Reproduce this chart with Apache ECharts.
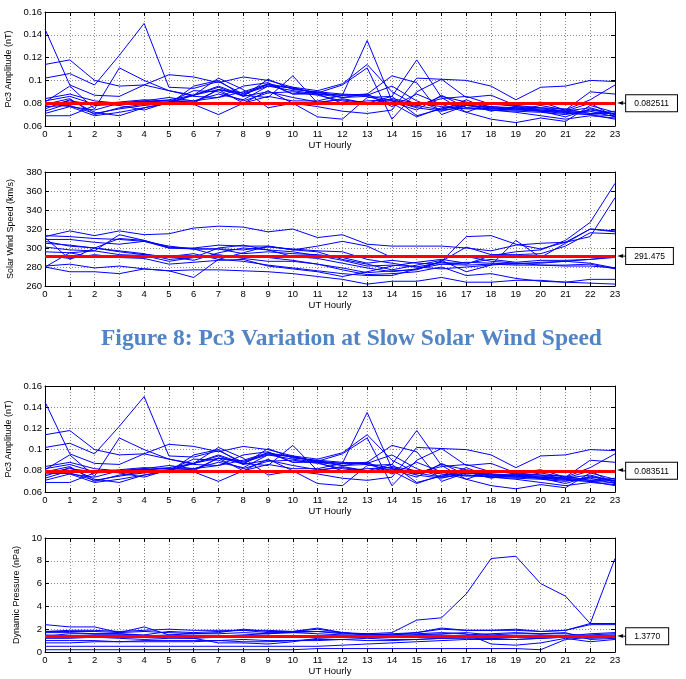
<!DOCTYPE html>
<html>
<head>
<meta charset="utf-8">
<script src="https://cdn.jsdelivr.net/npm/echarts@6/dist/echarts.min.js"></script>
<style>
  html, body { margin: 0; padding: 0; background: #fff; }
  #chart { width: 686px; height: 679px; }
</style>
</head>
<body>
<div id="chart"></div>
<script>
// Hour-of-day categories (UT)
const hours = ['0','1','2','3','4','5','6','7','8','9','10','11','12','13','14','15','16','17','18','19','20','21','22','23'];

// Pc3 amplitude (nT), one row per day
const pc3Days = [
  [0.145, 0.096, 0.087, 0.086, 0.096, 0.091, 0.087, 0.092, 0.089, 0.096, 0.093, 0.089, 0.087, 0.087, 0.082, 0.076, 0.073, 0.078, 0.076, 0.075, 0.073, 0.071, 0.070, 0.069],
  [0.114, 0.118, 0.100, 0.095, 0.096, 0.105, 0.103, 0.098, 0.103, 0.100, 0.094, 0.091, 0.097, 0.114, 0.090, 0.078, 0.074, 0.076, 0.074, 0.073, 0.072, 0.070, 0.074, 0.071],
  [0.102, 0.106, 0.096, 0.122, 0.150, 0.094, 0.093, 0.099, 0.088, 0.095, 0.091, 0.088, 0.087, 0.135, 0.082, 0.077, 0.086, 0.081, 0.077, 0.075, 0.074, 0.072, 0.070, 0.066],
  [0.081, 0.095, 0.075, 0.111, 0.100, 0.091, 0.086, 0.085, 0.090, 0.097, 0.088, 0.090, 0.085, 0.088, 0.104, 0.098, 0.070, 0.078, 0.076, 0.074, 0.078, 0.074, 0.083, 0.096],
  [0.069, 0.069, 0.078, 0.079, 0.081, 0.082, 0.081, 0.092, 0.087, 0.085, 0.104, 0.080, 0.084, 0.080, 0.086, 0.069, 0.075, 0.078, 0.077, 0.076, 0.075, 0.073, 0.071, 0.073],
  [0.071, 0.077, 0.069, 0.072, 0.076, 0.080, 0.079, 0.070, 0.080, 0.091, 0.080, 0.077, 0.073, 0.071, 0.074, 0.102, 0.101, 0.100, 0.095, 0.083, 0.094, 0.095, 0.100, 0.099],
  [0.075, 0.083, 0.072, 0.069, 0.076, 0.080, 0.087, 0.095, 0.087, 0.097, 0.093, 0.089, 0.096, 0.111, 0.066, 0.090, 0.101, 0.085, 0.087, 0.078, 0.081, 0.074, 0.090, 0.088],
  [0.078, 0.082, 0.079, 0.080, 0.082, 0.079, 0.095, 0.100, 0.086, 0.101, 0.092, 0.090, 0.088, 0.087, 0.095, 0.082, 0.074, 0.083, 0.074, 0.072, 0.069, 0.066, 0.069, 0.067],
  [0.080, 0.077, 0.074, 0.080, 0.081, 0.083, 0.087, 0.102, 0.092, 0.076, 0.080, 0.068, 0.066, 0.085, 0.086, 0.118, 0.085, 0.072, 0.066, 0.063, 0.067, 0.064, 0.078, 0.072],
  [0.073, 0.080, 0.080, 0.078, 0.074, 0.081, 0.091, 0.090, 0.082, 0.089, 0.090, 0.087, 0.082, 0.079, 0.084, 0.080, 0.077, 0.075, 0.075, 0.074, 0.073, 0.068, 0.075, 0.070],
  [0.084, 0.088, 0.082, 0.080, 0.082, 0.085, 0.082, 0.088, 0.083, 0.095, 0.094, 0.088, 0.080, 0.082, 0.083, 0.078, 0.084, 0.086, 0.079, 0.078, 0.076, 0.075, 0.071, 0.071],
  [0.077, 0.078, 0.071, 0.075, 0.078, 0.080, 0.080, 0.092, 0.080, 0.086, 0.082, 0.082, 0.087, 0.088, 0.077, 0.088, 0.079, 0.072, 0.080, 0.077, 0.076, 0.073, 0.080, 0.068],
  [0.079, 0.084, 0.070, 0.076, 0.079, 0.081, 0.087, 0.094, 0.086, 0.090, 0.085, 0.081, 0.083, 0.080, 0.081, 0.074, 0.087, 0.076, 0.075, 0.076, 0.073, 0.072, 0.073, 0.068],
  [0.082, 0.086, 0.079, 0.081, 0.083, 0.082, 0.082, 0.085, 0.095, 0.098, 0.088, 0.088, 0.085, 0.086, 0.080, 0.068, 0.076, 0.079, 0.073, 0.077, 0.074, 0.073, 0.076, 0.070]
];
const pc3MeanSlowWind = 0.082511;
const pc3MeanPressure = 0.083511;

// Solar wind speed (km/s)
const windDays = [
  [312, 318, 313, 318, 314, 315, 321, 323, 322, 317, 320, 311, 314, 304, 302, 302, 302, 300, 297, 303, 305, 306, 320, 317],
  [311, 288, 300, 310, 308, 301, 299, 299, 298, 301, 299, 297, 296, 288, 284, 280, 285, 283, 292, 296, 298, 308, 327, 368],
  [280, 295, 297, 314, 308, 300, 299, 292, 290, 290, 287, 283, 279, 274, 276, 277, 286, 312, 313, 304, 299, 306, 312, 353],
  [281, 283, 279, 281, 278, 276, 269, 288, 295, 302, 298, 296, 288, 283, 277, 282, 287, 275, 282, 308, 290, 305, 320, 318],
  [280, 275, 275, 273, 278, 276, 277, 277, 276, 275, 273, 270, 267, 262, 265, 265, 269, 264, 264, 266, 266, 264, 267, 267],
  [313, 312, 310, 309, 307, 300, 300, 303, 302, 302, 298, 302, 307, 302, 290, 292, 290, 291, 286, 284, 282, 282, 283, 278],
  [309, 309, 306, 304, 307, 302, 299, 299, 294, 296, 294, 293, 290, 284, 287, 284, 283, 282, 283, 282, 282, 281, 281, 279],
  [305, 303, 300, 296, 293, 291, 287, 295, 300, 298, 291, 289, 284, 279, 275, 278, 283, 285, 284, 283, 285, 286, 288, 291],
  [301, 298, 297, 293, 292, 286, 290, 293, 289, 286, 286, 283, 277, 272, 273, 275, 280, 271, 273, 268, 265, 264, 263, 262],
  [296, 295, 290, 291, 293, 291, 294, 288, 286, 282, 279, 276, 273, 271, 271, 278, 286, 301, 293, 293, 294, 302, 316, 315],
  [292, 289, 293, 290, 289, 283, 285, 287, 288, 281, 278, 275, 270, 275, 281, 285, 288, 284, 288, 285, 287, 287, 288, 290],
  [307, 302, 300, 297, 294, 288, 290, 300, 303, 298, 296, 292, 287, 281, 282, 280, 278, 280, 282, 284, 284, 286, 284, 279]
];
const windMean = 291.475;

// Dynamic pressure (nPa)
const pressureDays = [
  [1.8, 1.8, 1.8, 1.7, 1.8, 1.7, 1.6, 1.6, 1.7, 1.6, 1.7, 1.8, 1.6, 1.6, 1.7, 2.8, 3.0, 5.1, 8.2, 8.4, 6.0, 4.9, 2.5, 8.2],
  [2.4, 2.2, 2.2, 1.7, 2.2, 1.5, 1.6, 1.7, 2.0, 1.8, 1.8, 2.1, 1.7, 1.5, 1.6, 1.7, 2.0, 1.9, 1.9, 1.9, 1.8, 1.9, 2.5, 2.5],
  [1.8, 1.9, 1.9, 1.8, 1.9, 2.0, 1.9, 1.9, 1.9, 1.9, 1.8, 1.8, 1.7, 1.6, 1.5, 1.7, 2.1, 1.9, 1.9, 2.0, 1.8, 1.9, 2.4, 2.4],
  [1.5, 1.4, 1.5, 1.5, 1.4, 1.5, 1.4, 1.4, 1.5, 1.6, 1.8, 2.0, 1.7, 1.5, 1.4, 1.5, 1.6, 1.7, 1.5, 1.6, 1.6, 1.6, 1.4, 1.5],
  [1.2, 1.2, 1.3, 1.2, 1.1, 1.2, 1.2, 1.3, 1.3, 1.4, 1.4, 1.4, 1.3, 1.3, 1.4, 1.5, 1.5, 1.4, 1.4, 1.4, 1.5, 1.4, 1.5, 1.6],
  [1.0, 1.0, 1.0, 0.9, 0.9, 0.9, 0.9, 1.0, 1.1, 1.0, 1.0, 1.0, 1.1, 1.2, 1.1, 1.1, 1.2, 1.3, 1.2, 1.1, 1.2, 1.3, 1.3, 1.4],
  [0.5, 0.5, 0.5, 0.5, 0.5, 0.5, 0.5, 0.5, 0.5, 0.5, 0.5, 0.5, 0.6, 0.7, 0.8, 0.9, 1.0, 1.1, 1.1, 1.1, 1.2, 1.3, 1.2, 1.3],
  [0.2, 0.2, 0.2, 0.2, 0.2, 0.2, 0.2, 0.2, 0.2, 0.2, 0.2, 0.3, 0.3, 0.3, 0.3, 0.3, 0.3, 0.3, 0.3, 0.3, 0.2, 1.1, 1.3, 1.4],
  [1.4, 1.6, 1.6, 1.6, 1.4, 1.3, 1.2, 0.8, 0.8, 0.7, 0.9, 1.2, 1.3, 1.4, 1.3, 1.3, 1.4, 1.5, 1.6, 1.7, 1.6, 1.7, 1.1, 1.2],
  [1.7, 1.7, 1.6, 1.6, 1.5, 1.8, 1.7, 1.8, 1.9, 1.7, 1.7, 1.6, 1.5, 1.5, 1.5, 1.6, 1.7, 1.6, 0.7, 0.6, 0.8, 1.2, 0.9, 1.1],
  [0.8, 0.8, 0.9, 0.9, 1.0, 1.0, 1.0, 1.0, 0.9, 0.9, 1.0, 1.1, 1.1, 1.0, 1.0, 1.1, 1.2, 1.2, 1.2, 1.3, 1.3, 1.4, 1.6, 1.7]
];
const pressureMean = 1.3770;

const captionText = 'Figure 8: Pc3 Variation at Slow Solar Wind Speed';

const FONT = 'Liberation Sans, Arial, Helvetica, sans-serif';

const panels = [
  { top: 12,  height: 114, days: pc3Days, mean: pc3MeanSlowWind, meanText: '0.082511',
    min: 0.06, max: 0.16, interval: 0.02, name: 'Pc3 Amplitude (nT)', nameGap: 22,
    fmt: v => String(+v.toFixed(2)) },
  { top: 172, height: 114, days: windDays, mean: windMean, meanText: '291.475',
    min: 260, max: 380, interval: 20, name: 'Solar Wind Speed (km/s)', nameGap: 20,
    fmt: v => String(v) },
  { top: 386, height: 106, days: pc3Days, mean: pc3MeanPressure, meanText: '0.083511',
    min: 0.06, max: 0.16, interval: 0.02, name: 'Pc3 Amplitude (nT)', nameGap: 22,
    fmt: v => String(+v.toFixed(2)) },
  { top: 538, height: 114, days: pressureDays, mean: pressureMean, meanText: '1.3770',
    min: 0, max: 10, interval: 2, name: 'Dynamic Pressure (nPa)', nameGap: 15,
    fmt: v => String(v) }
];

const grid = [], xAxis = [], yAxis = [], series = [];
const dotted = { show: true, lineStyle: { color: '#8a8a8a', width: 1, type: [1, 2] } };
const frameLine = { show: true, onZero: false, lineStyle: { color: '#000', width: 1 } };
const innerTick = { show: true, inside: true, length: 4, interval: 0, lineStyle: { color: '#000' } };

panels.forEach((p, i) => {
  grid.push({ left: 45, right: 71, top: p.top, height: p.height, containLabel: false, outerBoundsMode: 'none' });

  // bottom axis with labels and grid lines
  xAxis.push({
    gridIndex: i, type: 'category', data: hours, boundaryGap: false,
    axisLine: frameLine, axisTick: innerTick,
    axisLabel: { color: '#000', fontSize: 9.5, fontFamily: FONT, margin: 3, interval: 0 },
    splitLine: Object.assign({ interval: 0 }, dotted),
    name: 'UT Hourly', nameLocation: 'middle', nameGap: 13,
    nameTextStyle: { color: '#000', fontSize: 9.5, fontFamily: FONT }
  });
  // top frame edge with ticks
  xAxis.push({
    gridIndex: i, type: 'category', data: hours, boundaryGap: false, position: 'top',
    axisLine: frameLine, axisTick: innerTick, axisLabel: { show: false }, splitLine: { show: false }
  });
  // left value axis
  yAxis.push({
    gridIndex: i, type: 'value', min: p.min, max: p.max, interval: p.interval,
    axisLine: frameLine, axisTick: innerTick,
    axisLabel: { color: '#000', fontSize: 9.5, fontFamily: FONT, margin: 3, formatter: p.fmt },
    splitLine: dotted,
    name: p.name, nameLocation: 'middle', nameGap: p.nameGap,
    nameTextStyle: { color: '#000', fontSize: 9, fontFamily: FONT }
  });
  // right frame edge with ticks
  yAxis.push({
    gridIndex: i, type: 'value', min: p.min, max: p.max, interval: p.interval, position: 'right',
    axisLine: frameLine, axisTick: innerTick, axisLabel: { show: false }, splitLine: { show: false }
  });

  p.days.forEach(day => {
    series.push({
      type: 'line', xAxisIndex: 2 * i, yAxisIndex: 2 * i, data: day,
      showSymbol: false, symbol: 'none', silent: true,
      lineStyle: { color: '#0000ff', width: 1 }, z: 2
    });
  });

  // mean level with its value tag
  series.push({
    type: 'line', xAxisIndex: 2 * i, yAxisIndex: 2 * i, data: [], z: 5,
    markLine: {
      silent: true, symbol: 'none', animation: false,
      lineStyle: { color: '#ff0000', width: 3, type: 'solid' },
      data: [{ yAxis: p.mean }],
      label: {
        show: true, position: 'end', distance: 2,
        formatter: '{a|◄}{g|}{b|' + p.meanText + '}',
        rich: {
          a: { fontSize: 8, color: '#000', fontFamily: 'DejaVu Sans', padding: [0, 0, 1, 0] },
          g: { width: 3, height: 1, backgroundColor: '#000' },
          b: { fontSize: 8.5, color: '#000', fontFamily: FONT, backgroundColor: '#fff',
               borderColor: '#000', borderWidth: 1, padding: [4, 8, 3, 8], lineHeight: 10 }
        }
      }
    }
  });
});

const chart = echarts.init(document.getElementById('chart'), null, { renderer: 'canvas' });
chart.setOption({
  animation: false,
  backgroundColor: '#fff',
  title: {
    text: captionText, left: 96, top: 322,
    textStyle: { color: '#5084c4', fontSize: 23.5, fontWeight: 'bold', fontFamily: 'Liberation Serif, Times New Roman, serif' }
  },
  grid, xAxis, yAxis, series
});
</script>
</body>
</html>
